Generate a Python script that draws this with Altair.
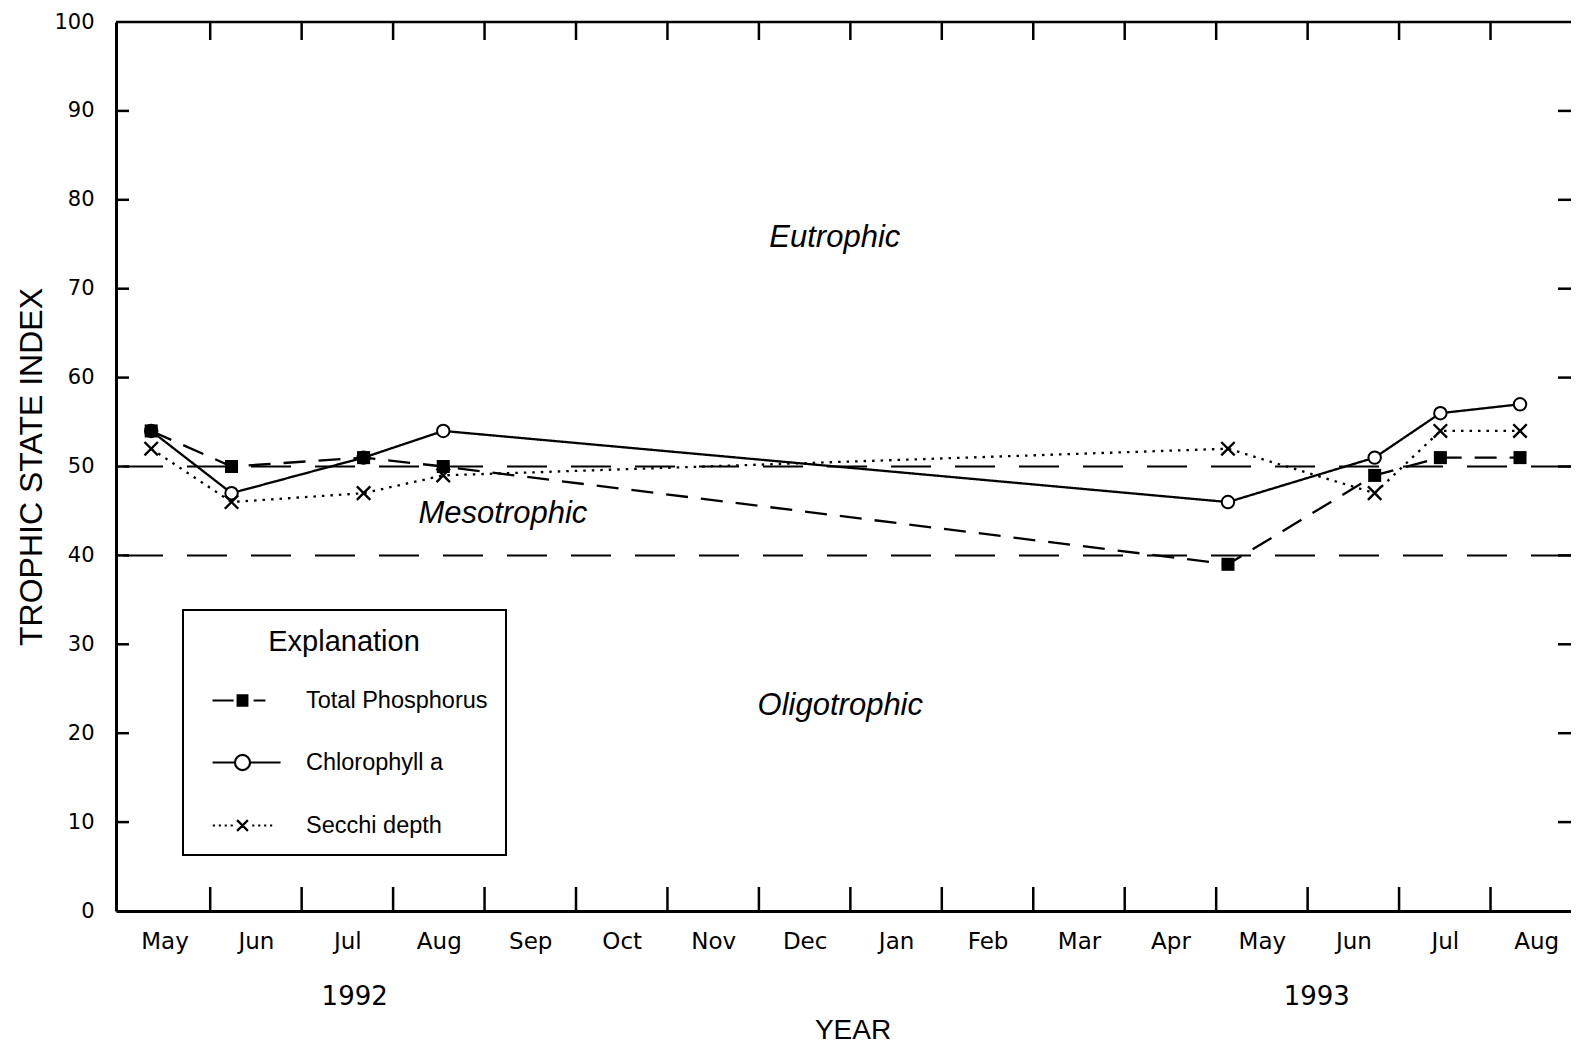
import calendar
import altair as alt
import pandas as pd

# ---------------- data ----------------
series_names = ["Total Phosphorus", "Chlorophyll a", "Secchi depth"]
sample_dates = ["1992-05-12", "1992-06-08", "1992-07-22", "1992-08-18",
                "1993-05-05", "1993-06-23", "1993-07-15", "1993-08-11"]
total_phosphorus = [54, 50, 51, 50, 39, 49, 51, 51]
chlorophyll_a = [54, 47, 51, 54, 46, 51, 56, 57]
secchi_depth = [52, 46, 47, 49, 52, 47, 54, 54]

month_labels = ["May", "Jun", "Jul", "Aug", "Sep", "Oct", "Nov", "Dec",
                "Jan", "Feb", "Mar", "Apr", "May", "Jun", "Jul", "Aug"]
y_ticks = [0, 10, 20, 30, 40, 50, 60, 70, 80, 90, 100]
inner_y_ticks = [10, 20, 30, 40, 50, 60, 70, 80, 90]
thresholds = [40, 50]

zone_labels = ["Eutrophic", "Mesotrophic", "Oligotrophic"]
zone_x = [7.83, 4.2, 7.89]      # months after 1 May 1992
zone_y = [75.7, 44.7, 23.1]

year_labels = ["1992", "1993"]
year_x = [2.58, 13.1]           # months after 1 May 1992

# ---------------- helpers ----------------
def month_offset(s):
    y, m, d = map(int, s.split("-"))
    return (y - 1992) * 12 + (m - 5) + (d - 1) / calendar.monthrange(y, m)[1]

t_vals = [month_offset(s) for s in sample_dates]
rows = []
for name, vals in zip(series_names, [total_phosphorus, chlorophyll_a, secchi_depth]):
    for d, t, v in zip(sample_dates, t_vals, vals):
        rows.append({"series": name, "date": d, "t": t, "v": v})
long = pd.DataFrame(rows)

W, H = 1455, 889

label_pos = [i + 0.5 for i in range(len(month_labels))]
js_months = "[" + ",".join("'" + m + "'" for m in month_labels) + "]"

x_scale = alt.Scale(domain=[-0.03, 15.88], nice=False, zero=False)
y_scale = alt.Scale(domain=[0, 100], nice=False)

x_axis = alt.Axis(values=label_pos, labelExpr=js_months + "[floor(datum.value)]",
                  ticks=False, grid=False, domainColor="black", domainWidth=3,
                  labelFont="DejaVu Sans", labelFontSize=23, labelColor="black",
                  labelPadding=19, labelFlush=False, labelOverlap=False,
                  title="YEAR", titleFont="Liberation Sans", titleFontSize=28,
                  titleFontWeight="normal", titleColor="black",
                  titleX=W / 2 + 9, titleY=119, titleAlign="center", titleBaseline="middle")
y_axis = alt.Axis(values=y_ticks, ticks=False, grid=False, domainColor="black", domainWidth=3,
                  labelFont="DejaVu Sans", labelFontSize=21, labelColor="black",
                  labelPadding=22, labelFlush=False,
                  title="TROPHIC STATE INDEX", titleFont="Liberation Sans", titleFontSize=32,
                  titleFontWeight="normal", titleColor="black", titleAngle=270,
                  titleAlign="center", titleBaseline="middle", titleX=-85, titleY=H / 2)

X = alt.X("t:Q", scale=x_scale, axis=x_axis)
Y = alt.Y("v:Q", scale=y_scale, axis=y_axis)

# threshold lines
thr = alt.Chart(pd.DataFrame({"v": thresholds})).mark_rule(
    color="black", strokeWidth=2, strokeDash=[40, 24]).encode(y=Y)

# top frame line
top_line = alt.Chart(pd.DataFrame({"v": [y_ticks[-1]]})).mark_rule(
    color="black", strokeWidth=2.5).encode(y=Y)

# series lines (one layer each, constant dash)
dashes = {series_names[0]: [22, 13], series_names[1]: [1, 0], series_names[2]: [2.5, 6]}
line_layers = [
    alt.Chart(long).transform_filter(alt.datum.series == name).mark_line(
        color="black", strokeWidth=2.3, strokeDash=dashes[name]
    ).encode(x=X, y=Y, order=alt.Order("t:Q"))
    for name in series_names
]

chl_pts = alt.Chart(long).transform_filter(alt.datum.series == series_names[1]).mark_point(
    shape="circle", filled=True, fill="white", stroke="black", strokeWidth=2,
    size=155, opacity=1).encode(x=X, y=Y)
tp_pts = alt.Chart(long).transform_filter(alt.datum.series == series_names[0]).mark_point(
    shape="square", filled=True, color="black", size=170, opacity=1).encode(x=X, y=Y)
sd_pts = alt.Chart(long).transform_filter(alt.datum.series == series_names[2]).mark_point(
    shape="M-1,-1L1,1M-1,1L1,-1", filled=False, stroke="black", strokeWidth=2.4,
    size=180, opacity=1).encode(x=X, y=Y)

# legend symbols: line piece + marker, as one path each (solid square drawn by hatching)
sq = "".join(f"M-0.22,{y:.3f}H0.22" for y in [-0.19, -0.115, -0.04, 0.04, 0.115, 0.19])
legend_shapes = [
    "M-1.11,0H-0.33M0.41,0H0.85" + sq,
    "M-1.11,0H-0.28M0.28,0H1.41M-0.28,0A0.28,0.28,0,1,0,0.28,0A0.28,0.28,0,1,0,-0.28,0Z",
    "M-1.1,0h0.08M-0.88,0h0.08M-0.66,0h0.08M-0.44,0h0.08"
    "M-0.2,-0.2L0.2,0.2M-0.2,0.2L0.2,-0.2"
    "M0.36,0h0.08M0.58,0h0.08M0.8,0h0.08M1.02,0h0.08",
]
legend = alt.Legend(title="Explanation", orient="none", legendX=67, legendY=588,
                    padding=18, strokeColor="black", fillColor="white",
                    titleFont="Liberation Sans", titleFontSize=29, titleFontWeight="normal",
                    titleColor="black", titleAnchor="middle", titlePadding=15,
                    labelFont="Liberation Sans", labelFontSize=23.5, labelColor="black",
                    labelOffset=35, labelLimit=400, symbolSize=2916, symbolOffset=13,
                    symbolStrokeColor="black", symbolFillColor="transparent",
                    symbolStrokeWidth=2.2, symbolOpacity=1, rowPadding=22)
legend_layer = alt.Chart(long).mark_point(filled=False, stroke="black", strokeOpacity=0,
                                          opacity=1).encode(
    x=alt.value(-2000), y=alt.value(-2000),
    shape=alt.Shape("series:N", scale=alt.Scale(domain=series_names, range=legend_shapes),
                    legend=legend),
)

# inward tick marks
bounds_df = pd.DataFrame({"t": list(range(1, len(month_labels)))})
bottom_ticks = alt.Chart(bounds_df).mark_rule(color="black", strokeWidth=2.5).encode(
    x=X, y=alt.value(H), y2=alt.value(H - 24))
top_ticks = alt.Chart(bounds_df).mark_rule(color="black", strokeWidth=2.5).encode(
    x=X, y=alt.value(0), y2=alt.value(18))
ytick_df = pd.DataFrame({"v": inner_y_ticks})
left_ticks = alt.Chart(ytick_df).mark_rule(color="black", strokeWidth=2.5).encode(
    y=Y, x=alt.value(0), x2=alt.value(13))
right_ticks = alt.Chart(ytick_df).mark_rule(color="black", strokeWidth=2.5).encode(
    y=Y, x=alt.value(W - 13), x2=alt.value(W))

# zone labels
zones = alt.Chart(pd.DataFrame({"label": zone_labels, "t": zone_x, "v": zone_y})).mark_text(
    font="Liberation Sans", fontStyle="italic", fontSize=31, color="black",
    align="center", baseline="middle").encode(x=X, y=Y, text="label:N")

years = alt.Chart(pd.DataFrame({"label": year_labels, "t": year_x})).mark_text(
    font="DejaVu Sans", fontSize=26, color="black", align="center", baseline="middle"
).encode(x=X, y=alt.value(H + 86), text="label:N")

chart = alt.layer(
    *line_layers, thr, top_line, chl_pts, tp_pts, sd_pts, legend_layer,
    bottom_ticks, top_ticks, left_ticks, right_ticks, zones, years,
).properties(
    width=W, height=H,
    autosize=alt.AutoSizeParams(type="none"),
    padding={"left": 108, "top": 14, "right": 0, "bottom": 136},
    background="white",
).configure_view(stroke=None).configure_legend(strokeWidth=2)

chart.save("out.html", embed_options={"renderer": "svg", "actions": False})
